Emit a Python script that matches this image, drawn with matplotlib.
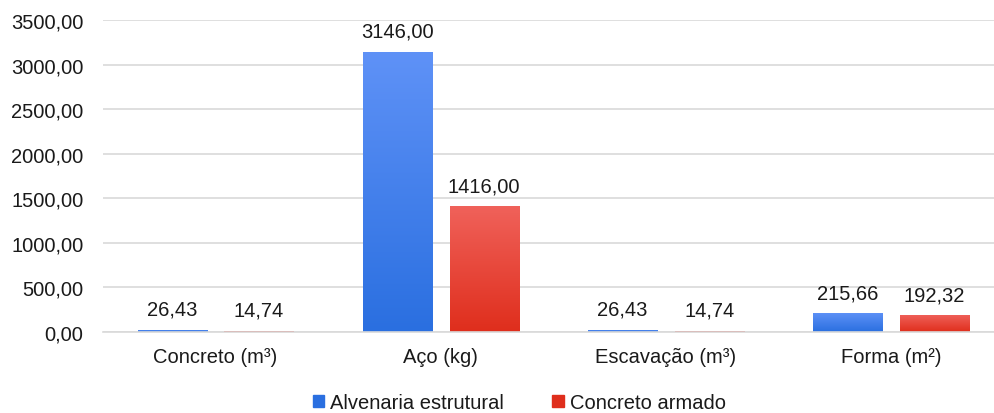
import numpy as np
import matplotlib.pyplot as plt
from matplotlib.colors import LinearSegmentedColormap
from matplotlib.ticker import FuncFormatter

plt.rcParams['font.family'] = ['Liberation Sans', 'DejaVu Sans']

categorias = ['Concreto (m³)', 'Aço (kg)', 'Escavação (m³)', 'Forma (m²)']
alvenaria = [26.43, 3146.00, 26.43, 215.66]
concreto = [14.74, 1416.00, 14.74, 192.32]
series = ['Alvenaria estrutural', 'Concreto armado']

# gradientes (topo -> base)
grad_azul = ('#5f92f7', '#2a6fe0')
grad_verm = ('#f0625b', '#df2e1c')


def fmt(v):
    return f'{v:.2f}'.replace('.', ',')


fig = plt.figure(figsize=(9.95, 4.14), dpi=100)
ax = fig.add_axes([103 / 995, (414 - 333) / 414, 892 / 995, 312 / 414])

x = np.arange(len(categorias))
largura = 0.307
desloc = 0.193

grad = np.linspace(0, 1, 256).reshape(-1, 1)
for vals, cores, off, nome in [(alvenaria, grad_azul, -desloc, series[0]),
                               (concreto, grad_verm, desloc, series[1])]:
    cmap = LinearSegmentedColormap.from_list('g', [cores[0], cores[1]])
    barras = ax.bar(x + off, vals, largura, color=cores[1], label=nome,
                    edgecolor='none', zorder=2)
    for b, v in zip(barras, vals):
        x0 = b.get_x()
        im = ax.imshow(grad, cmap=cmap, aspect='auto', zorder=2.1,
                       extent=[x0, x0 + largura, 0, v], origin='upper')
        im.set_clip_path(b)
        ax.text(x0 + largura / 2, v + 120, fmt(v), ha='center', va='bottom',
                fontsize=14.5, color='#1a1a1a', zorder=3)

ax.set_xlim(-0.5, 3.5 - 8.5 / 225)
ax.set_ylim(0, 3500)
ax.set_yticks(np.arange(0, 3501, 500))
ax.yaxis.set_major_formatter(FuncFormatter(lambda v, p: fmt(v)))
ax.set_xticks(x)
ax.set_xticklabels(categorias)
ax.tick_params(axis='both', length=0, labelsize=14.5, colors='#1a1a1a')
ax.tick_params(axis='y', pad=14)
ax.tick_params(axis='x', pad=11)
ax.grid(axis='y', color='#d9d9d9', linewidth=1.2, zorder=0)
ax.set_axisbelow(True)
for s in ['top', 'right', 'left']:
    ax.spines[s].set_visible(False)
ax.spines['bottom'].set_color('#d9d9d9')
ax.spines['bottom'].set_linewidth(1.2)

leg = fig.legend(handles=[plt.Rectangle((0, 0), 1, 1, color=grad_azul[1]),
                          plt.Rectangle((0, 0), 1, 1, color=grad_verm[1])],
                 labels=series, loc='center', bbox_to_anchor=(0.522, 0.025),
                 ncol=2, frameon=False, fontsize=14.5, handlelength=0.55,
                 handleheight=0.55, handletextpad=0.3, columnspacing=2.4,
                 labelcolor='#1a1a1a')

fig.savefig('out.png', dpi=100)
